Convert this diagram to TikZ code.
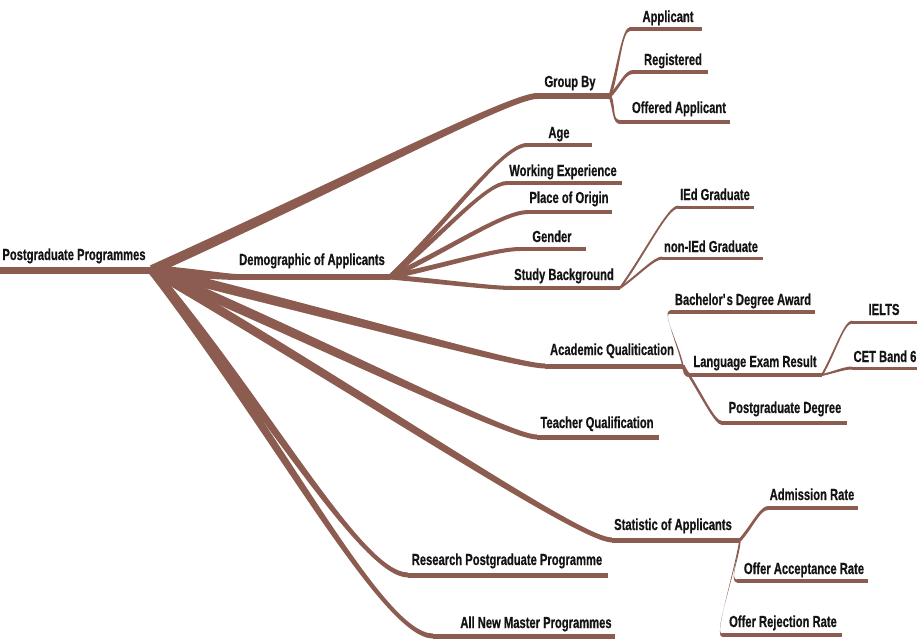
\documentclass[tikz,border=0pt]{standalone}
\usepackage{fontspec}
\setmainfont{Liberation Sans}[FakeStretch=0.7,BoldFeatures={FakeBold=0.6}]
\usetikzlibrary{calc}
\definecolor{mbrown}{RGB}{139,92,79}
\tikzset{
  lbl/.style={anchor=base,inner sep=0pt,text=black!92,font=\bfseries\fontsize{16}{16}\selectfont},
  uline/.style={draw=mbrown,line cap=butt},
  branch/.style={fill=mbrown,draw=none}
}
% \topic{name}{x1}{x2}{line y}{line width}{text x}{base y}{text}
\newcommand\topic[8]{%
  \coordinate (#1-w) at (#2,#4);
  \coordinate (#1-e) at (#3,#4);
  \draw[uline,line width=#5pt] (#1-w) -- (#1-e);
  \node[lbl] (#1) at (#6,#7) {#8};
}
\def\kB{0.18}
% \conn[k]{from}{to}{start width}{end width}
\newcommand\conn[5][0.45]{%
  \pgfpointanchor{#2}{center}\pgfgetlastxy\cax\cay
  \pgfpointanchor{#3}{center}\pgfgetlastxy\cbx\cby
  \pgfmathsetmacro\Ax{\cax}\pgfmathsetmacro\Ay{\cay}%
  \pgfmathsetmacro\Bx{\cbx}\pgfmathsetmacro\By{\cby}%
  \pgfmathsetmacro\Ang{atan2(\By-(\Ay),\Bx-(\Ax))}%
  \pgfmathsetmacro\Sx{-#4/2*sin(\Ang)}%
  \pgfmathsetmacro\Sy{#4/2*cos(\Ang)}%
  \pgfmathsetmacro\Hb{#5/2}%
  \pgfmathsetmacro\Cx{\Ax+#1*(\Bx-(\Ax))}%
  \pgfmathsetmacro\Cy{\Ay+#1*(\By-(\Ay))}%
  \pgfmathsetmacro\Dx{\Bx-max(\kB*(\Bx-(\Ax)),8)}%
  \fill[branch]
    ({(\Ax+(\Sx))*1pt},{(\Ay+(\Sy))*1pt})
    .. controls ({(\Cx+(\Sx))*1pt},{(\Cy+(\Sy))*1pt}) and ({\Dx*1pt},{(\By+\Hb)*1pt})
    .. ({\Bx*1pt},{(\By+\Hb)*1pt})
    -- ({\Bx*1pt},{(\By-\Hb)*1pt})
    .. controls ({\Dx*1pt},{(\By-\Hb)*1pt}) and ({(\Cx-(\Sx))*1pt},{(\Cy-(\Sy))*1pt})
    .. ({(\Ax-(\Sx))*1pt},{(\Ay-(\Sy))*1pt}) -- cycle;
}
\begin{document}
\begin{tikzpicture}[x=1pt,y=-1pt]
\useasboundingbox (0,0) rectangle (917,641);
% level 0
\topic{root}{0}{152}{270}{7}{74}{260}{Postgraduate Programmes}
% level 1
\topic{groupby}{537}{610}{96}{6}{570}{87}{Group By}
\topic{demo}{237}{390}{277}{6}{312}{265}{Demographic of Applicants}
\topic{acad}{545}{683}{366}{5}{612}{355}{Academic Qualitication}
\topic{teacher}{537}{659}{437}{5}{597}{428}{Teacher Qualification}
\topic{stat}{612}{740}{540}{5}{673}{530}{Statistic of Applicants}
\topic{research}{408}{608}{575}{5}{507}{565}{Research Postgraduate Programme}
\topic{allnew}{433}{615}{636}{5}{536}{628}{All New Master Programmes}
% demographic children
\topic{age}{527}{592}{145}{4}{559}{138}{Age}
\topic{work}{507}{622}{183}{4}{563}{176}{Working Experience}
\topic{place}{528}{612}{212}{4}{569}{203}{Place of Origin}
\topic{gender}{520}{586}{249}{4}{552}{242}{Gender}
\topic{study}{513}{620}{288}{4}{564}{280}{Study Background}
% study background children
\topic{ied}{678}{754}{207}{3}{715}{200}{IEd Graduate}
\topic{nonied}{662}{763}{258}{3}{711}{252}{non-IEd Graduate}
% group by children
\topic{applicant}{630}{702}{29}{4}{668}{22}{Applicant}
\topic{registered}{633}{708}{72}{4}{673}{65}{Registered}
\topic{offered}{620}{730}{122}{4}{679}{113}{Offered Applicant}
% academic children
\topic{bachelor}{670}{815}{312}{4}{743}{305}{Bachelor\textquotesingle s Degree Award}
\topic{language}{690}{822}{375}{4}{755}{367}{Language Exam Result}
\topic{pgdegree}{722}{847}{423}{4}{785}{413}{Postgraduate Degree}
% language children
\topic{ielts}{852}{917}{322}{3}{884}{315}{IELTS}
\topic{cet}{852}{917}{368}{3}{885}{362}{CET Band 6}
% statistic children
\topic{admission}{768}{858}{508}{4}{812}{500}{Admission Rate}
\topic{acceptance}{737}{868}{581}{4}{804}{574}{Offer Acceptance Rate}
\topic{rejection}{722}{842}{635}{4}{783}{627}{Offer Rejection Rate}
% connectors
\def\kB{0.07}
\conn[0.5]{root-e}{groupby-w}{10}{6}
\conn{root-e}{demo-w}{10}{6}
\conn[0.5]{root-e}{acad-w}{10}{5}
\conn[0.5]{root-e}{teacher-w}{10}{5}
\conn[0.5]{root-e}{stat-w}{9}{5}
\def\kB{0.18}
\conn{root-e}{research-w}{9}{5}
\conn{root-e}{allnew-w}{9}{5}
\conn{demo-e}{age-w}{5}{4}
\conn{demo-e}{work-w}{5}{4}
\conn{demo-e}{place-w}{5}{4}
\conn{demo-e}{gender-w}{5}{4}
\conn{demo-e}{study-w}{5}{4}
\conn{study-e}{ied-w}{2}{3}
\conn{study-e}{nonied-w}{2}{3}
\conn{groupby-e}{applicant-w}{3}{4}
\conn{groupby-e}{registered-w}{3}{4}
\conn{groupby-e}{offered-w}{3}{4}
\conn{acad-e}{bachelor-w}{1.5}{3}
\conn{acad-e}{language-w}{4}{4}
\conn{acad-e}{pgdegree-w}{2.5}{4}
\conn{language-e}{ielts-w}{2}{3}
\conn{language-e}{cet-w}{2}{3}
\conn{stat-e}{admission-w}{3}{4}
\conn{stat-e}{acceptance-w}{1.5}{3}
\conn{stat-e}{rejection-w}{1}{3}
\end{tikzpicture}
\end{document}
